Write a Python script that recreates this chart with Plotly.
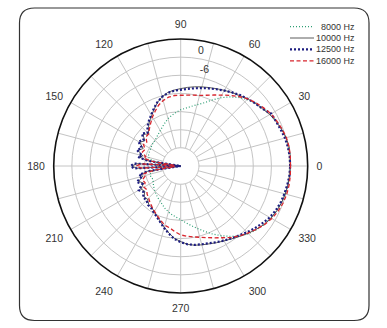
import plotly.graph_objects as go

W, H = 387, 328

angles = [0, 5, 10, 15, 20, 25, 30, 35, 40, 45, 50, 55, 60, 65, 70, 75, 80, 85, 90, 95,
          100, 105, 110, 115, 120, 125, 130, 135, 140, 145, 150, 155, 160, 165,
          168, 171, 174, 177, 180, 183, 186, 189, 192,
          195, 200, 205, 210, 215, 220, 225, 230, 235, 240, 245, 250, 255, 260, 265,
          270, 275, 280, 285, 290, 295, 300, 305, 310, 315, 320, 325, 330, 335, 340,
          345, 350, 355, 360]

hz8000 = [0.2, 0.3, 0.3, 0.1, -0.4, -1.0, -1.7, -2.6, -3.6, -4.9, -6.4, -8.1, -10.0, -12.0,
          -13.8, -15.0, -16.0, -16.8, -17.4, -18.2, -19.0, -19.8, -20.8, -21.7, -22.5, -23.1,
          -23.6, -24.0, -24.1, -24.3, -24.5, -24.6, -24.7, -25.0,
          -25.8, -27.5, -30.0, -29.0, -28.0, -29.0, -30.0, -27.5, -26.0,
          -25.5, -25.5, -25.8, -25.5, -25.0, -24.5, -24.0, -23.5, -23.0, -22.5, -21.8, -21.0,
          -20.3, -19.6, -19.0, -18.2, -17.2, -16.0, -14.6, -13.0, -11.2, -9.4, -7.6, -5.8,
          -4.3, -3.2, -2.3, -1.6, -1.0, -0.6, -0.3, 0.0, 0.1, 0.2]

hz10000 = [0.3, 0.4, 0.4, 0.1, -0.5, -1.2, -2.0, -3.0, -3.8, -4.6, -5.6, -6.4, -7.1, -7.8,
           -8.4, -8.9, -9.4, -9.9, -10.4, -10.8, -11.3, -12.3, -13.6, -15.2, -16.8, -18.0,
           -19.4, -21.0, -19.7, -21.5, -20.3, -22.3, -21.0, -23.0,
           -22.2, -25.0, -36.0, -21.5, -19.8, -21.5, -36.0, -25.0, -22.5,
           -23.0, -21.2, -22.5, -20.8, -21.5, -20.2, -20.5, -19.5, -19.3, -18.5, -17.6, -16.4,
           -15.0, -13.5, -12.0, -11.0, -10.0, -9.4, -9.0, -8.6, -8.0, -7.4, -6.6, -5.6,
           -4.5, -3.4, -2.3, -1.5, -0.9, -0.5, -0.2, 0.0, 0.2, 0.3]

hz12500 = [0.2, 0.2, 0.0, -0.3, -0.8, -1.2, -1.4, -3.0, -3.8, -4.6, -5.4, -6.3, -7.2, -8.0,
           -8.7, -9.3, -9.9, -10.4, -10.8, -11.0, -11.5, -12.3, -13.5, -15.0, -16.5, -17.7,
           -18.9, -20.5, -19.3, -21.0, -19.8, -21.8, -20.6, -22.8,
           -21.5, -25.0, -36.0, -20.5, -19.5, -20.5, -36.0, -25.0, -22.0,
           -22.8, -20.5, -22.0, -20.0, -21.0, -19.8, -20.0, -19.2, -19.0, -18.2, -17.4, -16.2,
           -14.8, -13.3, -11.8, -10.8, -10.0, -9.5, -9.2, -8.8, -8.2, -7.5, -6.8, -6.0,
           -5.0, -4.0, -3.0, -2.0, -1.3, -0.8, -0.5, -0.2, 0.1, 0.2]

hz16000 = [0.3, 0.4, 0.4, 0.2, -0.3, -0.9, -1.5, -2.5, -3.5, -4.6, -6.0, -7.5, -8.9, -10.1,
           -11.1, -11.8, -12.2, -12.5, -12.6, -12.6, -12.9, -13.6, -14.6, -16.0, -17.3, -18.7,
           -19.9, -21.0, -21.0, -22.3, -21.8, -23.0, -22.5, -24.0,
           -23.5, -27.0, -34.0, -23.0, -21.3, -23.0, -34.0, -27.0, -23.5,
           -24.0, -22.5, -23.0, -22.0, -22.3, -21.5, -21.0, -20.2, -19.5, -18.7, -17.8, -16.8,
           -15.7, -15.2, -14.2, -13.2, -12.7, -12.2, -11.6, -10.8, -9.8, -8.6, -7.1, -5.8,
           -4.6, -3.4, -2.2, -1.2, -0.5, 0.0, 0.3, 0.4, 0.4, 0.3]

series_names = ["8000 Hz", "10000 Hz", "12500 Hz", "16000 Hz"]
series_vals = [hz8000, hz10000, hz12500, hz16000]
series_colors = ["#2e9e74", "#4a4a4a", "#1d1d80", "#d8262e"]
series_dash = ["1px,2px", "solid", "2px,2px", "4px,2.5px"]
series_width = [1.2, 0.9, 2.2, 1.3]

r_min, r_max = -36, 6
ring_vals = [-30, -24, -18, -12, -6, 0]
label_rings = [0, -6]
label_angles = [80, 76]
ang_vals = list(range(0, 360, 15))
ang_text = [str(a) if a % 30 == 0 else "" for a in ang_vals]

fig = go.Figure()

# white hub covering the spoke ends inside the innermost ring
hub_theta = list(range(0, 361, 5))
fig.add_trace(go.Scatterpolar(r=[ring_vals[0]] * len(hub_theta), theta=hub_theta,
                              mode="lines", fill="toself", fillcolor="white",
                              line=dict(color="#c4c4c4", width=0.8),
                              hoverinfo="skip", showlegend=False))

for name, vals, col, dash, wd in zip(series_names, series_vals, series_colors,
                                     series_dash, series_width):
    fig.add_trace(go.Scatterpolar(r=vals, theta=angles, mode="lines", name=name,
                                  line=dict(color=col, dash=dash, width=wd),
                                  showlegend=False))

# radial ring labels (horizontal text, just outside their ring)
fig.add_trace(go.Scatterpolar(r=[v + 2.6 for v in label_rings], theta=label_angles,
                              mode="text", text=[str(v) for v in label_rings],
                              textfont=dict(family="Liberation Sans, Arial, sans-serif",
                                            size=10.5, color="#333333"),
                              hoverinfo="skip", showlegend=False))

cx, cy, R = 180.7, 166.0, 127.0
font = dict(family="Liberation Sans, Arial, sans-serif", size=10.5, color="#333333")

fig.update_layout(
    width=W, height=H,
    margin=dict(l=0, r=0, t=0, b=0),
    paper_bgcolor="white",
    font=font,
    polar=dict(
        domain=dict(x=[(cx - R) / W, (cx + R) / W], y=[1 - (cy + R) / H, 1 - (cy - R) / H]),
        bgcolor="white",
        radialaxis=dict(range=[r_min, r_max], tickvals=ring_vals, showticklabels=False,
                        showline=False, ticks="",
                        gridcolor="#c4c4c4", gridwidth=0.8),
        angularaxis=dict(tickvals=ang_vals, ticktext=ang_text, direction="counterclockwise",
                         rotation=0, showline=True, linecolor="#111111", linewidth=1.6,
                         ticks="outside", ticklen=6, tickcolor="rgba(0,0,0,0)",
                         gridcolor="#c4c4c4", gridwidth=0.8,
                         tickfont=dict(size=10.5, color="#333333")),
    ),
)

# rounded frame
x0, x1, y0, y1, rad = 19.5, 369.0, 8.0, 320.5, 15.0
def P(x, y):
    return f"{x / W:.5f},{1 - y / H:.5f}"
path = (f"M {P(x0 + rad, y0)} L {P(x1 - rad, y0)} Q {P(x1, y0)} {P(x1, y0 + rad)} "
        f"L {P(x1, y1 - rad)} Q {P(x1, y1)} {P(x1 - rad, y1)} "
        f"L {P(x0 + rad, y1)} Q {P(x0, y1)} {P(x0, y1 - rad)} "
        f"L {P(x0, y0 + rad)} Q {P(x0, y0)} {P(x0 + rad, y0)} Z")
fig.add_shape(type="path", path=path, xref="paper", yref="paper",
              line=dict(color="#333333", width=1.2))

# legend (drawn manually to get the tight row spacing)
row_y = [26.7, 38.0, 49.3, 60.8]
for name, col, dash, wd, yy in zip(series_names, series_colors, series_dash,
                                   series_width, row_y):
    fig.add_shape(type="line", xref="paper", yref="paper",
                  x0=290 / W, x1=314 / W, y0=1 - yy / H, y1=1 - yy / H,
                  line=dict(color=col, dash=dash, width=wd))
    fig.add_annotation(text=name, xref="paper", yref="paper", x=357 / W, y=1 - yy / H,
                       xanchor="right", yanchor="middle", showarrow=False,
                       font=dict(family="Liberation Sans, Arial, sans-serif", size=9,
                                 color="#333333"))

fig.write_html("out.html")
